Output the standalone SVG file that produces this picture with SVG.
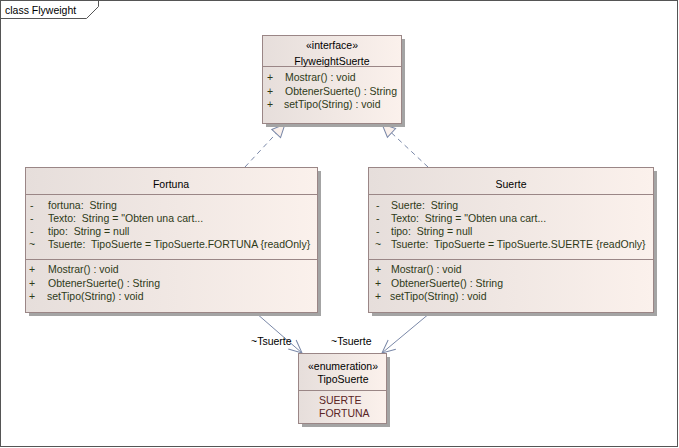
<svg xmlns="http://www.w3.org/2000/svg" width="679" height="448" viewBox="0 0 679 448">
<defs>
<linearGradient id="g" x1="0" y1="0" x2="1" y2="0">
<stop offset="0" stop-color="#e6dedb"/>
<stop offset="1" stop-color="#fbf1ec"/>
</linearGradient>
<marker id="tri" markerWidth="16" markerHeight="16" refX="14" refY="7" orient="auto" markerUnits="userSpaceOnUse">
<path d="M1,1 L14,7 L1,13 Z" fill="#fbf1ec" stroke="#7a88a8" stroke-width="1"/>
</marker>
<marker id="open" markerWidth="16" markerHeight="16" refX="14" refY="7" orient="auto" markerUnits="userSpaceOnUse">
<path d="M1,1 L14,7 L1,13" fill="none" stroke="#7a88a8" stroke-width="1"/>
</marker>
</defs>
<style>
text{font-family:"Liberation Sans",Arial,sans-serif;font-size:10.5px;fill:#000;white-space:pre}
.sh{fill:#a4a4a4}
.bx{fill:url(#g);stroke:#9a8686;stroke-width:1}
.sep{stroke:#9a8686;stroke-width:1}
.m{fill:#2e3a18}
.lit{fill:#5a2424}
.c{text-anchor:middle}
.gen{fill:none;stroke:#7a88a8;stroke-width:1;stroke-dasharray:5,4}
.asc{fill:none;stroke:#7a88a8;stroke-width:1}
</style>
<rect x="0.5" y="0.5" width="677" height="446" fill="#fff" stroke="#555" stroke-width="1"/>
<polyline points="0.5,18.5 86.5,18.5 98.5,6.5 98.5,0.5" fill="none" stroke="#555" stroke-width="1"/>
<text x="5" y="14" font-size="11">class Flyweight</text>

<g id="connectors">
<line class="gen" x1="245" y1="167" x2="285" y2="124" marker-end="url(#tri)"/>
<line class="gen" x1="428" y1="167" x2="382" y2="124" marker-end="url(#tri)"/>
<line class="asc" x1="256" y1="313" x2="302" y2="353" marker-end="url(#open)"/>
<line class="asc" x1="430" y1="313" x2="382" y2="353" marker-end="url(#open)"/>
<text x="251" y="345">~Tsuerte</text>
<text x="331" y="345">~Tsuerte</text>
</g>

<g id="FlyweightSuerte">
<rect class="sh" x="266" y="39" width="139" height="88"/>
<rect class="bx" x="262.5" y="35.5" width="139" height="88"/>
<line class="sep" x1="262.5" y1="66.5" x2="401.5" y2="66.5"/>
<text class="c" x="332" y="49" font-size="10">«interface»</text>
<text class="c" x="332" y="65">FlyweightSuerte</text>
<text class="m" x="267" y="81">+</text><text class="m" x="285" y="81">Mostrar() : void</text>
<text class="m" x="267" y="95">+</text><text class="m" x="285" y="95">ObtenerSuerte() : String</text>
<text class="m" x="267" y="108">+</text><text class="m" x="284" y="108">setTipo(String) : void</text>
</g>

<g id="Fortuna">
<rect class="sh" x="29" y="171" width="292" height="145"/>
<rect class="bx" x="25.5" y="167.5" width="292" height="145"/>
<line class="sep" x1="25.5" y1="194.5" x2="317.5" y2="194.5"/>
<line class="sep" x1="25.5" y1="259.5" x2="317.5" y2="259.5"/>
<text class="c" x="171" y="188">Fortuna</text>
<text class="m" x="30" y="209">-</text><text class="m" x="48" y="209">fortuna:  String</text>
<text class="m" x="30" y="222">-</text><text class="m" x="48" y="222">Texto:  String = "Obten una cart...</text>
<text class="m" x="30" y="235">-</text><text class="m" x="48" y="235">tipo:  String = null</text>
<text class="m" x="29" y="248">~</text><text class="m" x="48" y="248">Tsuerte:  TipoSuerte = TipoSuerte.FORTUNA {readOnly}</text>
<text class="m" x="29" y="273">+</text><text class="m" x="48" y="273">Mostrar() : void</text>
<text class="m" x="29" y="287">+</text><text class="m" x="48" y="287">ObtenerSuerte() : String</text>
<text class="m" x="29" y="300">+</text><text class="m" x="47" y="300">setTipo(String) : void</text>
</g>

<g id="Suerte">
<rect class="sh" x="372" y="171" width="285" height="145"/>
<rect class="bx" x="368.5" y="167.5" width="285" height="145"/>
<line class="sep" x1="368.5" y1="194.5" x2="653.5" y2="194.5"/>
<line class="sep" x1="368.5" y1="259.5" x2="653.5" y2="259.5"/>
<text class="c" x="511" y="188">Suerte</text>
<text class="m" x="376" y="209">-</text><text class="m" x="391" y="209">Suerte:  String</text>
<text class="m" x="376" y="222">-</text><text class="m" x="391" y="222">Texto:  String = "Obten una cart...</text>
<text class="m" x="376" y="235">-</text><text class="m" x="391" y="235">tipo:  String = null</text>
<text class="m" x="375" y="248">~</text><text class="m" x="391" y="248">Tsuerte:  TipoSuerte = TipoSuerte.SUERTE {readOnly}</text>
<text class="m" x="375" y="273">+</text><text class="m" x="391" y="273">Mostrar() : void</text>
<text class="m" x="375" y="287">+</text><text class="m" x="391" y="287">ObtenerSuerte() : String</text>
<text class="m" x="375" y="300">+</text><text class="m" x="390" y="300">setTipo(String) : void</text>
</g>

<g id="TipoSuerte">
<rect class="sh" x="302" y="357" width="88" height="70"/>
<rect class="bx" x="298.5" y="353.5" width="88" height="70"/>
<line class="sep" x1="298.5" y1="390.5" x2="386.5" y2="390.5"/>
<text class="c" x="343" y="370" font-size="10">«enumeration»</text>
<text class="c" x="343" y="383">TipoSuerte</text>
<text class="lit" x="319" y="404">SUERTE</text>
<text class="lit" x="319" y="417">FORTUNA</text>
</g>
</svg>
